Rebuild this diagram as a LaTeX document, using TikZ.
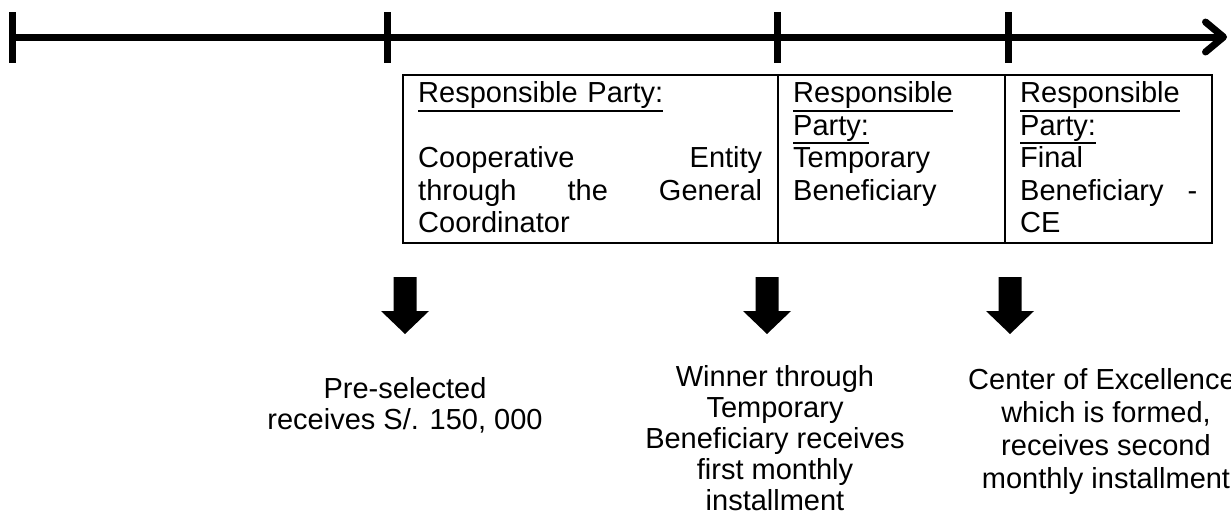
\documentclass[tikz,border=0pt]{standalone}
\usepackage{fontspec}
\setmainfont{Liberation Sans}
\usetikzlibrary{arrows.meta}

% underlined heading with a thicker rule
\newcommand{\ulhead}[1]{\leavevmode\setbox0\hbox{#1}\rlap{\rule[-9pt]{\wd0}{2pt}}\box0}

\tikzset{
	timeline/.style={line width=7pt},
	cellline/.style={line width=2pt},
	partytext/.style={anchor=north west, inner sep=0pt, align=left, font=\fontsize{29}{32.5}\selectfont},
	paytext/.style={anchor=base, inner sep=0pt, align=center, font=\fontsize{29}{31}\selectfont},
}

\begin{document}
\begin{tikzpicture}[x=1pt, y=-1pt]
	\useasboundingbox (0,0) rectangle (1231,520);

	% Draw time line
	\draw[timeline, -{Straight Barb[length=18pt, width=30pt, round]}] (12,37) -- (1227,37);
	% Ticks
	\foreach \t in {12,387,777,1008}
		\draw[timeline] (\t,12) -- (\t,63);

	% Table of responsible parties
	\draw[cellline] (403,75) rectangle (1212,243);
	\draw[cellline] (778,75) -- (778,243);
	\draw[cellline] (1005,75) -- (1005,243);

	\node[partytext, text width=344pt] (partyA) at (418,80)
		{\strut\ulhead{Responsible Party:}\\[32.5pt]
		Cooperative\hfill Entity\\ through\hfill the\hfill General\\ Coordinator};
	\node[partytext, text width=197pt] (partyB) at (793,80)
		{\strut\ulhead{Responsible}\\ \ulhead{Party:}\\ Temporary\\ Beneficiary};
	\node[partytext, text width=177pt] (partyC) at (1020,80)
		{\strut\ulhead{Responsible}\\ \ulhead{Party:}\\ Final\\ Beneficiary\hfill -\\ CE};

	% Block arrows
	\foreach \c in {405,767,1010}
		\fill (\c-11.5,277) -- (\c+11.5,277) -- (\c+11.5,311) -- (\c+24,311)
			-- (\c,334) -- (\c-24,311) -- (\c-11.5,311) -- cycle;

	% Payments (base = last line)
	\node[paytext] (payA) at (405,429) {Pre-selected\\ receives S/. 150, 000};
	\node[paytext] (payB) at (775,510) {Winner through\\ Temporary\\ Beneficiary receives\\ first monthly\\ installment};
	\node[paytext, font=\fontsize{29}{33}\selectfont] (payC) at (1106,488)
		{Center of Excellence,\\ which is formed,\\ receives second\\ monthly installment};

\end{tikzpicture}
\end{document}
